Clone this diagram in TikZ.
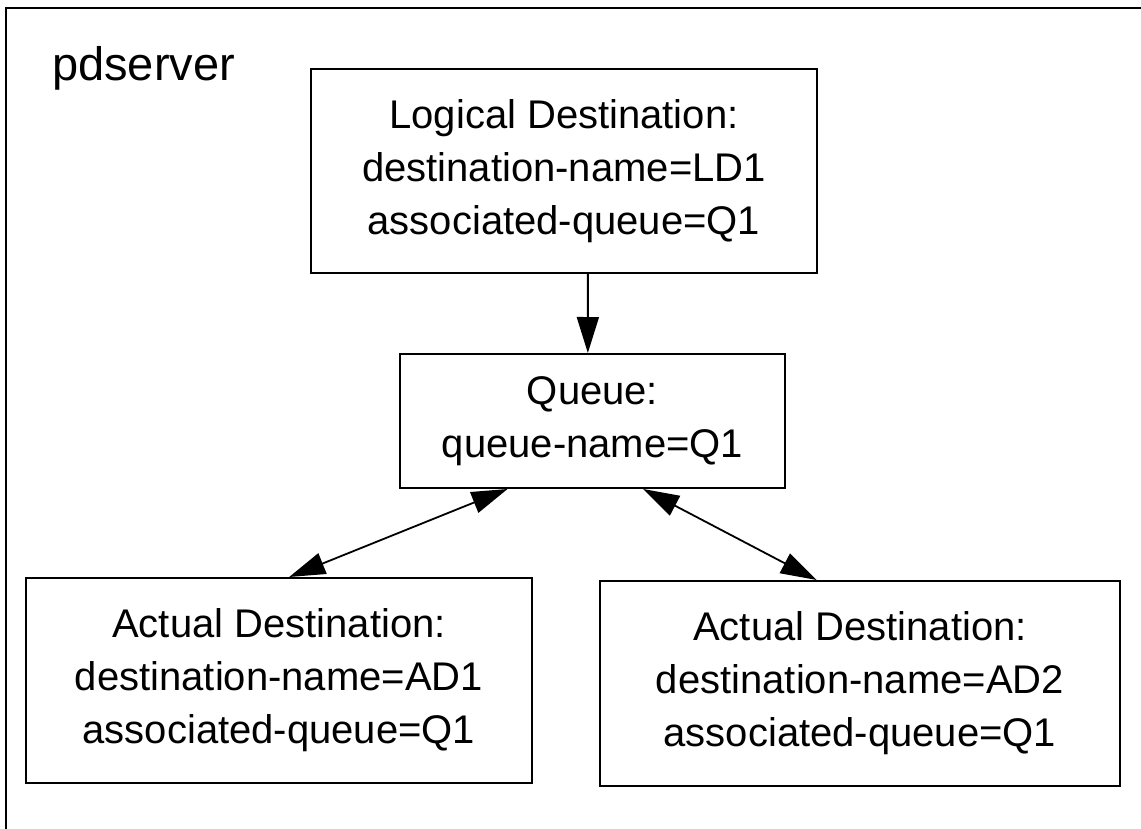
\documentclass[tikz,border=0pt]{standalone}
\usepackage{fontspec}
\setmainfont{Liberation Sans}
\usetikzlibrary{arrows.meta,calc}
\begin{document}
\begin{tikzpicture}[x=1pt,y=-1pt,
  box/.style={draw=black,line width=2pt,rectangle,inner sep=0pt,align=center,
    font=\fontsize{40}{53}\selectfont},
  conn/.style={line width=1.8pt,-{Triangle[length=36pt,width=22pt]}},
  biconn/.style={line width=1.8pt,{Triangle[length=36pt,width=22pt]}-{Triangle[length=36pt,width=22pt]}}]
\useasboundingbox (0,0) rectangle (1141,829);
\fill[white] (0,0) rectangle (1141,829);
\draw[line width=2.5pt] (6,829) -- (6,8) -- (1141,8);
\node[anchor=base west,inner sep=0pt,font=\fontsize{47}{52}\selectfont] (title) at (52,81) {pdserver};

\node[box,minimum width=506pt,minimum height=204pt] (LD) at (564,171)
  {Logical Destination:\\destination-name=LD1\\associated-queue=Q1};
\node[box,minimum width=385pt,minimum height=134pt] (Q) at (592.5,421)
  {Queue:\\queue-name=Q1};
\node[box,minimum width=506pt,minimum height=205pt] (AD1) at (279,680.5)
  {Actual Destination:\\destination-name=AD1\\associated-queue=Q1};
\node[box,minimum width=520pt,minimum height=205pt] (AD2) at (860,683.5)
  {Actual Destination:\\destination-name=AD2\\associated-queue=Q1};

\draw[conn] ($(LD.south west)!0.547!(LD.south east)$) -- ($(Q.north west)!0.488!(Q.north east)$);
\draw[biconn] ($(Q.south west)!0.2805!(Q.south east)$) -- ($(AD1.north west)!0.52!(AD1.north east)$);
\draw[biconn] ($(Q.south west)!0.631!(Q.south east)$) -- ($(AD2.north west)!0.417!(AD2.north east)$);
\end{tikzpicture}
\end{document}
